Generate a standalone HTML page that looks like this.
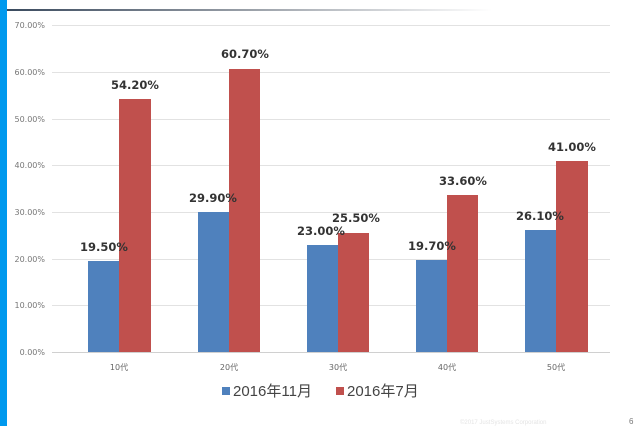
<!DOCTYPE html>
<html><head><meta charset="utf-8"><style>
html,body{margin:0;padding:0;background:#fff;}
</style></head><body>
<svg width="640" height="426" xmlns="http://www.w3.org/2000/svg" style="display:block">
<defs><linearGradient id="g" x1="0" x2="1"><stop offset="0" stop-color="#3a4a5e"/><stop offset="0.5" stop-color="#9aa0a8"/><stop offset="1" stop-color="#fff"/></linearGradient></defs>
<rect x="0" y="0" width="7" height="426" fill="#0099ee"/>
<rect x="7" y="9" width="485" height="2" fill="url(#g)"/>
<g stroke="#e2e2e2" stroke-width="1">
<line x1="52" x2="610" y1="25.5" y2="25.5"/>
<line x1="52" x2="610" y1="72.5" y2="72.5"/>
<line x1="52" x2="610" y1="119.5" y2="119.5"/>
<line x1="52" x2="610" y1="165.5" y2="165.5"/>
<line x1="52" x2="610" y1="212.5" y2="212.5"/>
<line x1="52" x2="610" y1="259.5" y2="259.5"/>
<line x1="52" x2="610" y1="305.5" y2="305.5"/>
<line x1="52" x2="610" y1="352.5" y2="352.5" stroke="#d0d0d0"/>
</g>
<g font-family="DejaVu Sans, sans-serif" font-size="8" fill="#777" text-anchor="end">
<text x="45" y="28">70.00%</text><text x="45" y="75">60.00%</text><text x="45" y="122">50.00%</text><text x="45" y="168">40.00%</text><text x="45" y="215">30.00%</text><text x="45" y="262">20.00%</text><text x="45" y="308">10.00%</text><text x="45" y="355">0.00%</text>
</g>
<g fill="#4f81bd">
<rect x="88" y="261" width="31" height="91"/>
<rect x="198" y="212" width="31" height="140"/>
<rect x="307" y="245" width="31" height="107"/>
<rect x="416" y="260" width="31" height="92"/>
<rect x="525" y="230" width="31" height="122"/>
</g>
<g fill="#c0504d">
<rect x="119" y="99" width="32" height="253"/>
<rect x="229" y="69" width="31" height="283"/>
<rect x="338" y="233" width="31" height="119"/>
<rect x="447" y="195" width="31" height="157"/>
<rect x="556" y="161" width="32" height="191"/>
</g>
<g font-family="DejaVu Sans, sans-serif" font-size="11.5" font-weight="bold" fill="#333" text-anchor="middle">
<text x="104" y="251">19.50%</text><text x="135" y="89">54.20%</text>
<text x="213" y="202">29.90%</text><text x="245" y="58">60.70%</text>
<text x="321" y="235">23.00%</text><text x="356" y="222">25.50%</text>
<text x="432" y="250">19.70%</text><text x="463" y="185">33.60%</text>
<text x="540" y="220">26.10%</text><text x="572" y="151">41.00%</text>
</g>
<g font-family="DejaVu Sans, 'Noto Sans CJK JP', sans-serif" font-size="8" fill="#666" text-anchor="middle">
<text x="119" y="370">10代</text><text x="229" y="370">20代</text><text x="338" y="370">30代</text><text x="447" y="370">40代</text><text x="556" y="370">50代</text>
</g>
<rect x="222" y="387" width="8" height="8" fill="#4f81bd"/>
<rect x="336" y="387" width="8" height="8" fill="#c0504d"/>
<g font-family="'Liberation Sans', 'Noto Sans CJK JP', sans-serif" font-size="15" fill="#444">
<text x="233" y="396">2016年11月</text><text x="347" y="396">2016年7月</text>
</g>
<text x="460" y="424" font-family="Liberation Sans, sans-serif" font-size="6" fill="#e4e4e4">©2017 JustSystems Corporation</text>
<text x="629" y="424" font-family="Liberation Sans, sans-serif" font-size="8" fill="#777">6</text>
</svg>
</body></html>
